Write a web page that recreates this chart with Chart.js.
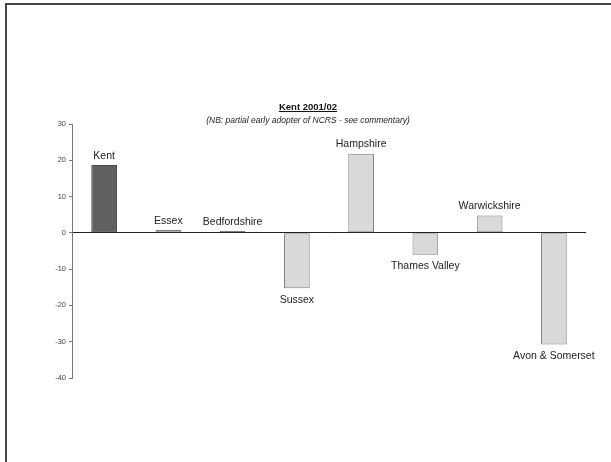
<!DOCTYPE html>
<html>
<head>
<meta charset="utf-8">
<script src="https://cdn.jsdelivr.net/npm/chart.js@4"></script>
<style>
  html, body { margin: 0; padding: 0; background: #fff; overflow: hidden; }
  #wrap { position: absolute; left: 0; top: 0; width: 611px; height: 462px; overflow: hidden; }
  #frame { position: absolute; left: 5px; top: 3px; width: 700px; height: 600px;
           border-left: 2px solid #444; border-top: 2px solid #444; }
</style>
</head>
<body>
<div id="wrap">
  <div id="frame"></div>
  <canvas id="myChart" width="611" height="462" style="position:absolute;left:0;top:0"></canvas>
</div>
<script>
let regions = ["Kent", "Essex", "Bedfordshire", "Sussex", "Hampshire", "Thames Valley", "Warwickshire", "Avon & Somerset"];
let values = [18.7, 0.8, 0.5, -15.3, 21.8, -6.0, 4.8, -30.8];
let yTicks = [30, 20, 10, 0, -10, -20, -30, -40];
let chartTitle = "Kent 2001/02";
let chartSubtitle = "(NB: partial early adopter of NCRS - see commentary)";

let fillColors = regions.map((r, i) => i === 0 ? "#606060" : "#d9d9d9");
let edgeColors = regions.map((r, i) => i === 0 ? "#4a4a4a" : "#808080");

// titles + bar name labels
let textPlugin = {
  id: "textPlugin",
  afterDraw(chart) {
    let c = chart.ctx;
    c.save();
    c.fillStyle = "#111";
    c.textAlign = "center";
    c.textBaseline = "alphabetic";
    c.font = "bold 9.5px 'Liberation Sans', Arial, sans-serif";
    let tx = 308;
    c.fillText(chartTitle, tx, 110);
    let w = c.measureText(chartTitle).width;
    c.fillRect(tx - w / 2, 111, w, 1);
    c.font = "italic 8.5px 'Liberation Sans', Arial, sans-serif";
    c.fillStyle = "#222";
    c.fillText(chartSubtitle, tx, 123);

    c.font = "10.5px 'Liberation Sans', Arial, sans-serif";
    c.fillStyle = "#222";
    let meta = chart.getDatasetMeta(0);
    meta.data.forEach((bar, i) => {
      if (values[i] >= 0) {
        c.textBaseline = "bottom";
        c.fillText(regions[i], bar.x, bar.y - 4);
      } else {
        c.textBaseline = "top";
        c.fillText(regions[i], bar.x, bar.y + 6);
      }
    });
    c.restore();
  }
};

let ctx = document.getElementById("myChart").getContext("2d");
let myChart = new Chart(ctx, {
  type: "bar",
  data: {
    labels: regions,
    datasets: [
      {
        data: values,
        backgroundColor: fillColors,
        borderColor: edgeColors,
        borderWidth: 1,
        borderSkipped: false,
        barPercentage: 0.4,
        categoryPercentage: 1,
      },
    ],
  },
  options: {
    responsive: false,
    animation: false,
    layout: { padding: { left: 42, right: 25, top: 124, bottom: 84 } },
    plugins: { legend: { display: false }, tooltip: { enabled: false }, title: { display: false } },
    scales: {
      x: { display: false },
      y: {
        min: -40,
        max: 30,
        afterFit: (scale) => { scale.width = 30; },
        afterBuildTicks: (scale) => { scale.ticks = yTicks.map((v) => ({ value: v })); },
        ticks: {
          font: { size: 7.5, family: "'Liberation Sans', Arial, sans-serif" },
          color: "#444",
          padding: 3,
        },
        border: { color: "#777", width: 1 },
        grid: {
          drawOnChartArea: true,
          tickLength: 3,
          tickColor: "#777",
          color: (g) => (g.tick && g.tick.value === 0 ? "#222" : "rgba(0,0,0,0)"),
        },
      },
    },
  },
  plugins: [textPlugin],
});
</script>
</body>
</html>
